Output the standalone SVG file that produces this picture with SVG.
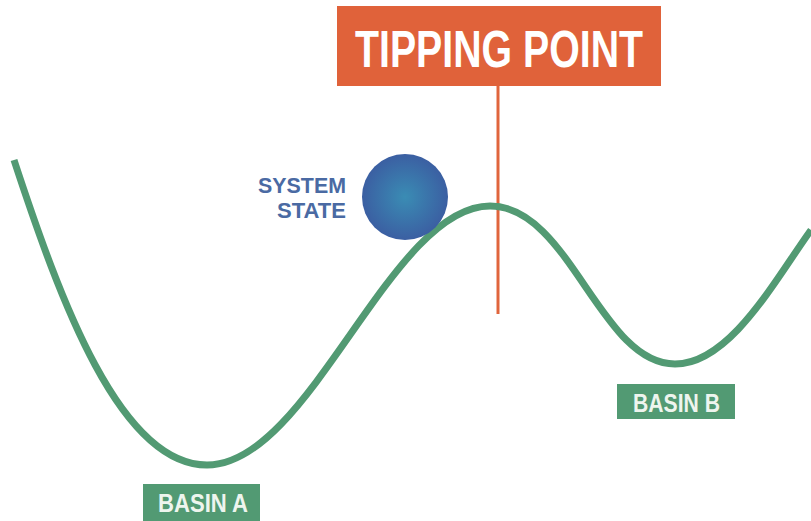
<svg xmlns="http://www.w3.org/2000/svg" width="811" height="521" viewBox="0 0 811 521">
<style>
.lbl{font-family:"Liberation Sans",Arial,sans-serif;font-weight:bold;}
.basin{fill:#529a73;}
.basintxt{fill:#eef5ee;font-size:26px;}
</style>
<defs>
<radialGradient id="ball" cx="0.5" cy="0.5" r="0.5">
<stop offset="0" stop-color="#3a8cb4"/>
<stop offset="1" stop-color="#3b5fa2"/>
</radialGradient>
</defs>
<rect width="811" height="521" fill="#ffffff"/>
<g id="connectors">
<line x1="498" y1="86" x2="498" y2="314" stroke="#e0653c" stroke-width="3"/>
<path d="M14,160 C60,300 120,465 207,465 C310,465 390,206 490,206 C570,206 600,364 675,364 C730,364 775,280 811,230" fill="none" stroke="#529a73" stroke-width="7"/>
</g>
<g id="tipping-point">
<rect x="337" y="6" width="324" height="80" fill="#e0623a"/>
<text class="lbl" x="499" y="67" text-anchor="middle" font-size="51" fill="#ffffff" textLength="288" lengthAdjust="spacingAndGlyphs">TIPPING POINT</text>
</g>
<g id="system-state">
<circle cx="405" cy="197" r="43" fill="url(#ball)"/>
<text class="lbl" x="346" y="193" text-anchor="end" font-size="22" fill="#4a6aa3" textLength="88" lengthAdjust="spacingAndGlyphs">SYSTEM</text>
<text class="lbl" x="346" y="218" text-anchor="end" font-size="22" fill="#4a6aa3" textLength="69" lengthAdjust="spacingAndGlyphs">STATE</text>
</g>
<g id="basin-a">
<rect class="basin" x="143" y="484" width="117" height="37"/>
<text class="lbl basintxt" x="203" y="512" text-anchor="middle" textLength="90" lengthAdjust="spacingAndGlyphs">BASIN A</text>
</g>
<g id="basin-b">
<rect class="basin" x="617" y="384" width="118" height="35"/>
<text class="lbl basintxt" x="676.5" y="412" text-anchor="middle" textLength="87" lengthAdjust="spacingAndGlyphs">BASIN B</text>
</g>
</svg>
